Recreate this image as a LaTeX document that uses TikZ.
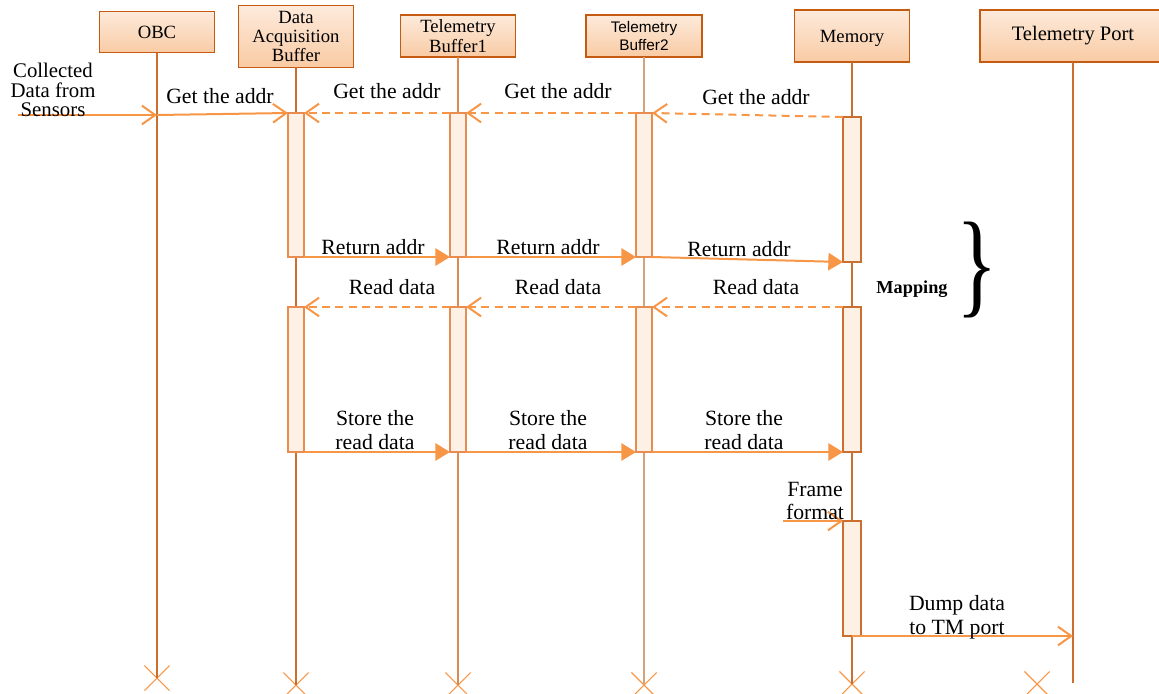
\documentclass[tikz,border=0pt]{standalone}
\usepackage{fontspec}
\setmainfont{Liberation Serif}
\newfontfamily\arialfont{Liberation Sans}
\usepackage{graphicx}
\usetikzlibrary{arrows.meta,shapes.misc}
\definecolor{hdrline}{RGB}{197,90,17}
\definecolor{hdrtop}{RGB}{253,234,219}
\definecolor{hdrbot}{RGB}{249,203,164}
\definecolor{lifeA}{RGB}{204,110,45}
\definecolor{lifeB}{RGB}{218,140,80}
\definecolor{lifeC}{RGB}{210,165,125}
\definecolor{msgline}{RGB}{247,150,70}
\definecolor{barfill}{RGB}{253,240,229}
\definecolor{barline}{RGB}{232,140,80}

\begin{document}
\begin{tikzpicture}[x=0.75pt,y=0.75pt,yscale=-1,xscale=1,
  hdr/.style={draw=hdrline,line width=0.8pt,top color=hdrtop,bottom color=hdrbot,inner sep=0pt,outer sep=0pt,align=center,font=\fontsize{14}{14.5}\selectfont},
  actbar/.style={draw=barline,fill=barfill,line width=0.8pt,inner sep=0pt,outer sep=0pt,minimum width=12pt},
  life/.style={draw=lifeA,line width=1pt},
  endmark/.style={cross out,draw=msgline,line width=0.8pt,minimum size=18pt,inner sep=0pt},
  call/.style={draw=msgline,line width=1.5pt,-{Straight Barb[length=10pt,width=14pt]}},
  reply/.style={call,dash pattern=on 6pt off 4pt},
  pass/.style={draw=msgline,line width=1.5pt,-{Triangle[length=11pt,width=13pt]}},
  lbl/.style={inner sep=0pt,align=center,font=\fontsize{16.3}{18}\selectfont}]
\useasboundingbox (0,0) rectangle (1159,693);

%Shape: Rectangle
\node[hdr,minimum width=86pt,minimum height=31pt] (obc) at (157,32) {OBC};
%Shape: Rectangle
\node[hdr,minimum width=86pt,minimum height=46pt] (dab) at (296,36.5) {Data\\Acquisition\\Buffer};
%Shape: Rectangle
\node[hdr,minimum width=86pt,minimum height=31.5pt] (tba) at (458,36) {Telemetry\\Buffer1};
%Shape: Rectangle
\node[hdr,minimum width=87pt,minimum height=31.5pt,font=\arialfont\fontsize{11.5}{13.5}\selectfont] (tbb) at (644,36) {Telemetry\\Buffer2};
%Shape: Rectangle
\node[hdr,minimum width=86pt,minimum height=39pt,text depth=-6pt] (mem) at (852,36) {Memory};
%Shape: Rectangle
\node[hdr,minimum width=139.5pt,minimum height=39pt,font=\fontsize{15.4}{16}\selectfont] (tmp) at (1073,36) {Telemetry Port};

%End marks
\node[endmark] (obcX) at (157,678) {};
\node[endmark] (dabX) at (296,685) {};
\node[endmark] (tbaX) at (458,685) {};
\node[endmark] (tbbX) at (644,685) {};
\node[endmark] (memX) at (852,684) {};
\node[endmark] (spareX) at (1037,684) {};
\coordinate (tmpEnd) at (1073,683);

%Straight Lines
\draw[life] (obc.south) -- (obcX.center);
\draw[life] (dab.south) -- (dabX.center);
\draw[life,draw=lifeB] (tba.south) -- (tbaX.center);
\draw[life,draw=lifeC] (tbb.south) -- (tbbX.center);
\draw[life] (mem.south) -- (memX.center);
\draw[life] (tmp.south) -- (tmpEnd);

%Shape: Rectangle
\node[actbar,minimum height=108pt] (dab1) at (296,185) {};
\node[actbar,minimum height=108pt] (tba1) at (458,185) {};
\node[actbar,minimum height=108pt] (tbb1) at (644,185) {};
\node[actbar,draw=lifeA,minimum width=13.5pt,minimum height=108.75pt] (mem1) at (852,189.5) {};
\node[actbar,minimum height=108.75pt] (dab2) at (296,379.5) {};
\node[actbar,minimum height=108.75pt] (tba2) at (458,379.5) {};
\node[actbar,minimum height=108.75pt] (tbb2) at (644,379.5) {};
\node[actbar,draw=lifeA,minimum width=13.5pt,minimum height=108.75pt] (mem2) at (852,379.5) {};
\node[actbar,draw=lifeA,minimum width=13.5pt,minimum height=86.25pt] (mem3) at (852,578.5) {};

%Straight Lines
\coordinate (sensIn) at (18,115);
\coordinate (obcHit) at (157,115);
\draw[call] (sensIn) -- (obcHit);
\draw[call] (obcHit) -- (dab1.north west);
\draw[reply] (tba1.north west) -- (dab1.north east);
\draw[reply] (tbb1.north west) -- (tba1.north east);
\draw[reply] (mem1.north west) -- (tbb1.north east);
\draw[pass] (dab1.south east) -- (tba1.south west);
\draw[pass] (tba1.south east) -- (tbb1.south west);
\draw[pass] (tbb1.south east) -- (mem1.south west);
\draw[reply] (mem2.north west) -- (tbb2.north east);
\draw[reply] (tbb2.north west) -- (tba2.north east);
\draw[reply] (tba2.north west) -- (dab2.north east);
\draw[pass] (dab2.south east) -- (tba2.south west);
\draw[pass] (tba2.south east) -- (tbb2.south west);
\draw[pass] (tbb2.south east) -- (mem2.south west);
\coordinate (frameIn) at (783,521);
\draw[call] (frameIn) -- (mem3.north west);
\coordinate (tmpHit) at (1073,636);
\draw[call] (mem3.south) -- (tmpHit);

% Text Node
\node[inner sep=0pt,align=center,font=\fontsize{15.6}{14.5}\selectfont] (sensLbl) at (53,90) {Collected\\Data from\\Sensors};
% Text Node
\node[lbl] (getA) at (220,96) {Get the addr};
\node[lbl] (getB) at (387,91) {Get the addr};
\node[lbl] (getC) at (558,91) {Get the addr};
\node[lbl] (getD) at (756,97) {Get the addr};
% Text Node
\node[lbl] (retA) at (373,247) {Return addr};
\node[lbl] (retB) at (548,247) {Return addr};
\node[lbl] (retC) at (739,249) {Return addr};
% Text Node
\node[lbl] (readA) at (392,287) {Read data};
\node[lbl] (readB) at (558,287) {Read data};
\node[lbl] (readC) at (756,287) {Read data};
% Text Node
\node[lbl] (storeA) at (375,430) {Store the\\read data};
\node[lbl] (storeB) at (548,430) {Store the\\read data};
\node[lbl] (storeC) at (744,430) {Store the\\read data};
% Text Node
\node[lbl,font=\fontsize{16.3}{17}\selectfont] (frameLbl) at (815,501) {Frame\\format};
\node[lbl] (dumpLbl) at (957,617) {Dump data\\to TM port};
% Text Node
\node[inner sep=0pt,font=\bfseries\fontsize{13.7}{14}\selectfont] (mapLbl) at (912,289) {Mapping};
\node[inner sep=0pt] (mapBrace) at (977,270) {\resizebox*{31pt}{72pt}{\}}};

\end{tikzpicture}
\end{document}
